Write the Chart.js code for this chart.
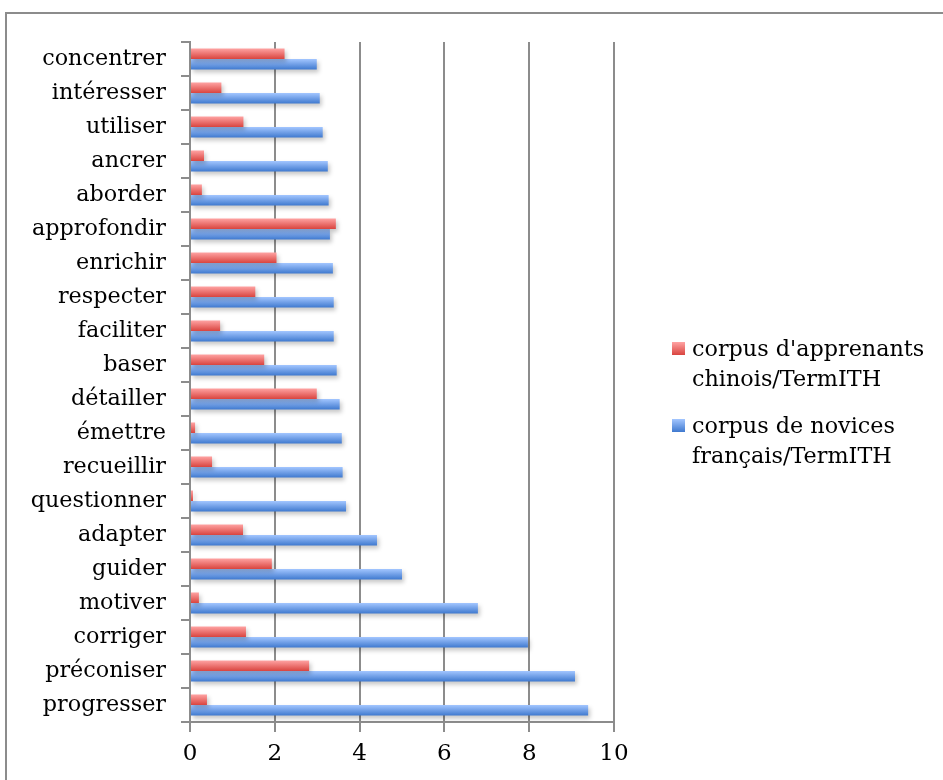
<!DOCTYPE html>
<html>
<head>
<meta charset="utf-8">
<script src="https://cdn.jsdelivr.net/npm/chart.js@4/dist/chart.umd.min.js"></script>
<style>
  html, body { margin: 0; padding: 0; background: #fff; overflow: hidden; }
  #wrap { position: relative; width: 943px; height: 780px; }
  #cadre { position: absolute; left: 5px; top: 12px; width: 1000px; height: 1000px; border: 2px solid #8c8c8c; box-sizing: border-box; }
  #graphique { position: absolute; left: 0; top: 0; }
  #legende { position: absolute; left: 672px; top: 333px; font-family: 'DejaVu Serif', serif; font-size: 22.3px; line-height: 30px; color: #000; }
  .item { position: relative; padding-left: 20px; margin-bottom: 17px; }
  .carre { position: absolute; left: 0; top: 9px; width: 13px; height: 13px; }
</style>
</head>
<body>
<div id="wrap">
  <div id="cadre"></div>
  <canvas id="graphique" width="943" height="780"></canvas>
  <div id="legende"></div>
</div>
<script>
const verbes = ['concentrer', 'intéresser', 'utiliser', 'ancrer', 'aborder', 'approfondir', 'enrichir',
  'respecter', 'faciliter', 'baser', 'détailler', 'émettre', 'recueillir', 'questionner', 'adapter',
  'guider', 'motiver', 'corriger', 'préconiser', 'progresser'];
const apprenantsChinois = [2.23, 0.74, 1.26, 0.33, 0.28, 3.44, 2.04, 1.54, 0.71, 1.75, 2.99, 0.12,
  0.52, 0.07, 1.25, 1.93, 0.21, 1.32, 2.81, 0.40];
const novicesFrancais = [2.99, 3.06, 3.13, 3.25, 3.27, 3.30, 3.37, 3.39, 3.39, 3.46, 3.53, 3.58,
  3.60, 3.68, 4.41, 5.00, 6.79, 7.97, 9.08, 9.39];
const nomsSeries = [['corpus d\'apprenants', 'chinois/TermITH'], ['corpus de novices', 'français/TermITH']];
const graduations = [0, 2, 4, 6, 8, 10];

const couleurs = [
  { haut: '#ffa3a3', bas: '#d9443f' },
  { haut: '#a3c6ff', bas: '#3f79cf' }
];
const catPct = 0.62;

function degrade(context) {
  const chart = context.chart;
  const c = couleurs[context.datasetIndex];
  const ys = chart.scales.y;
  if (!ys || !chart.chartArea || context.dataIndex === undefined) return c.bas;
  const centre = ys.getPixelForValue(context.dataIndex);
  const h = (chart.chartArea.bottom - chart.chartArea.top) / verbes.length * catPct / 2;
  const y0 = context.datasetIndex === 0 ? centre - h : centre;
  const g = chart.ctx.createLinearGradient(0, y0, 0, y0 + h);
  g.addColorStop(0, c.haut);
  g.addColorStop(1, c.bas);
  return g;
}

const ombre = {
  id: 'ombre',
  beforeDatasetsDraw(chart) {
    const ctx = chart.ctx;
    ctx.save();
    ctx.shadowColor = 'rgba(0,0,0,0.22)';
    ctx.shadowBlur = 4;
    ctx.shadowOffsetX = 2;
    ctx.shadowOffsetY = 3;
  },
  afterDatasetsDraw(chart) {
    chart.ctx.restore();
  }
};

const police = { family: "'DejaVu Serif', serif", size: 22.3 };

const graphique = new Chart(document.getElementById('graphique'), {
  type: 'bar',
  data: {
    labels: verbes,
    datasets: [
      { label: nomsSeries[0].join(' '), data: apprenantsChinois, backgroundColor: degrade },
      { label: nomsSeries[1].join(' '), data: novicesFrancais, backgroundColor: degrade }
    ]
  },
  options: {
    indexAxis: 'y',
    responsive: false,
    animation: false,
    categoryPercentage: catPct,
    barPercentage: 1,
    layout: { padding: { left: 0, top: 42, right: 329, bottom: 0 } },
    plugins: { legend: { display: false }, tooltip: { enabled: false } },
    scales: {
      x: {
        min: 0,
        max: 10,
        afterBuildTicks(scale) { scale.ticks = graduations.map(v => ({ value: v })); },
        afterFit(scale) { scale.height = 58; },
        grid: { color: '#8c8c8c', lineWidth: 2, tickLength: 10 },
        border: { color: '#8c8c8c', width: 2 },
        ticks: { color: '#000', font: { family: police.family, size: 23 }, padding: 8 }
      },
      y: {
        afterFit(scale) { scale.width = 190; },
        grid: { drawOnChartArea: false, drawTicks: true, tickLength: 9, offset: true, color: '#8c8c8c', lineWidth: 2 },
        border: { color: '#8c8c8c', width: 2 },
        ticks: { color: '#000', font: police, padding: 15, autoSkip: false }
      }
    }
  },
  plugins: [ombre]
});

// légende en HTML, sur deux lignes comme l'original
const legende = document.getElementById('legende');
nomsSeries.forEach((lignes, i) => {
  const item = document.createElement('div');
  item.className = 'item';
  const carre = document.createElement('span');
  carre.className = 'carre';
  carre.style.background = 'linear-gradient(' + couleurs[i].haut + ',' + couleurs[i].bas + ')';
  item.appendChild(carre);
  lignes.forEach(t => {
    const l = document.createElement('div');
    l.textContent = t;
    item.appendChild(l);
  });
  legende.appendChild(item);
});
</script>
</body>
</html>
